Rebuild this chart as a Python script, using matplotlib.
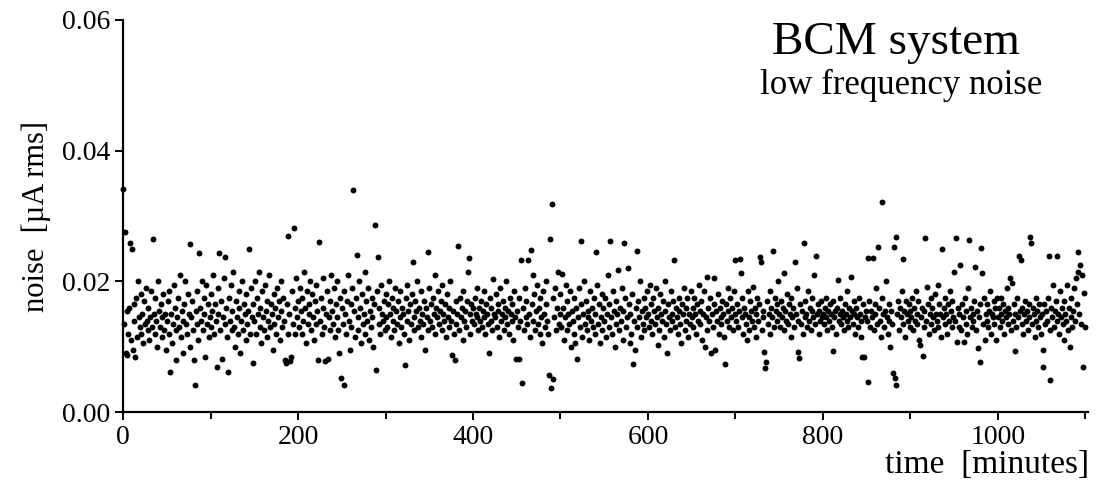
import numpy as np
import matplotlib
matplotlib.use("Agg")
import matplotlib.pyplot as plt
from matplotlib.ticker import MultipleLocator

# noise values, in units of 1e-4 uA rms, one per minute (t = 0 .. 1099)
seg00 = [342,135,276,90,155,88,120,160,259,110,250,95,165,140,85,175,115,200,145,130,180,120,150,105,170,135,190,140,125,160,110,145,185,130,265,150,120,175,140,100,200,155,130,165,115,145,180,125,150,95]
seg01 = [140,170,120,185,61,150,105,135,195,160,125,80,145,175,130,210,115,155,140,90,165,200,135,120,180,150,100,257,145,170,125,80,41,155,185,135,110,244,160,140,200,125,175,150,85,195,135,165,115,145]
seg02 = [180,130,155,210,120,165,140,69,190,150,244,125,170,82,145,205,135,238,160,115,61,175,140,195,125,155,215,130,100,170,145,120,185,160,90,140,200,125,165,150,110,180,135,155,250,120,190,145,75,165]
seg03 = [140,200,120,175,150,215,130,160,105,185,145,125,195,155,115,170,140,210,130,165,150,95,180,135,160,120,190,145,170,110,155,200,130,175,140,80,75,165,120,270,150,78,85,185,135,282,160,120,205,145]
seg04 = [170,130,190,155,120,175,140,215,160,105,185,135,165,150,200,125,180,145,110,170,135,195,155,80,261,140,175,120,160,205,130,78,150,185,82,145,170,125,210,155,135,190,115,165,145,200,125,90,175,52]
seg05 = [160,135,41,185,150,120,170,210,140,95,165,130,190,340,155,115,175,241,145,125,200,160,105,180,135,150,215,120,170,140,190,110,155,130,175,145,100,165,287,64,185,238,135,160,120,195,150,140,170,125]
seg06 = [180,145,130,165,200,150,115,175,140,160,125,190,155,135,170,105,145,185,130,160,150,120,72,175,140,195,155,110,165,135,180,230,145,125,170,155,200,130,160,140,115,185,150,135,170,95,160,145,245,125]
seg07 = [190,140,165,130,175,150,210,120,160,145,185,135,155,170,125,195,150,140,165,115,180,145,130,160,200,140,88,155,120,80,170,135,150,254,125,175,145,160,110,185,140,155,130,170,215,236,150,120,165,140]
seg08 = [160,135,175,150,145,190,125,160,140,170,130,155,185,145,120,165,150,135,90,175,140,160,125,204,150,145,180,130,165,155,115,190,140,150,170,125,160,145,200,135,155,120,175,150,140,165,110,185,145,81]
seg09 = [155,130,81,175,140,233,44,160,125,190,145,170,135,233,150,115,248,165,210,140,180,125,155,195,135,160,120,175,145,105,185,150,130,200,165,140,120,57,265,37,319,50,175,145,190,125,160,215,135,150]
seg10 = [180,130,212,160,110,145,195,125,170,150,135,185,100,155,140,120,175,105,160,81,145,190,130,262,165,115,150,200,135,170,125,155,145,110,185,140,160,130,175,120,150,245,195,135,165,105,145,180,125,160]
seg11 = [140,175,115,150,210,130,165,262,145,120,185,155,100,170,135,150,218,125,160,140,190,110,155,259,175,130,145,221,165,105,150,120,180,74,140,95,160,247,130,170,145,200,115,155,135,175,125,160,145,185]
seg12 = [150,130,195,140,165,120,175,155,135,190,145,103,160,125,180,150,140,170,115,155,200,135,90,165,145,125,185,150,140,170,233,130,160,145,120,175,155,135,105,165,150,190,125,160,140,175,115,150,135,185]
seg13 = [145,160,130,175,150,120,165,140,195,155,135,170,110,150,185,100,145,207,125,160,140,175,90,150,130,165,205,95,155,140,180,120,160,145,135,170,150,115,74,165,140,190,155,130,175,145,160,125,185,150]
seg14 = [232,140,165,130,155,234,213,145,175,120,160,150,135,110,185,145,125,170,155,140,192,130,160,150,115,175,140,165,238,230,125,155,145,92,68,76,170,135,150,185,120,160,145,247,130,175,155,140,165,200]
seg15 = [150,130,170,145,160,213,125,155,140,180,135,165,150,115,175,145,160,130,229,150,190,140,92,83,165,135,155,120,258,145,170,150,130,185,140,160,125,155,175,145,210,135,239,150,165,120,155,140,170,145]
seg16 = [150,135,160,145,175,125,155,140,165,150,130,93,170,145,155,120,160,202,140,150,175,135,155,145,125,165,150,140,185,130,160,145,207,155,135,170,150,120,160,145,130,175,150,140,115,84,165,84,145,155]
seg17 = [140,236,46,170,130,155,145,236,125,165,150,190,135,252,160,140,115,175,322,150,130,155,200,145,120,165,140,100,155,135,60,252,52,268,41,150,170,125,160,145,185,234,135,155,115,170,150,140,165,130]
seg18 = [155,145,175,125,160,140,185,150,135,170,110,103,145,160,86,130,155,266,140,192,165,120,150,175,135,160,145,125,180,150,140,195,130,165,150,115,250,145,160,135,175,150,120,165,140,185,155,130,170,145]
seg19 = [215,140,267,107,160,130,150,225,125,165,145,107,175,135,155,120,190,264,145,160,130,150,140,170,222,125,155,98,145,77,165,251,213,135,175,110,150,140,165,130,155,185,120,150,145,170,135,160,110,175]
seg20 = [145,160,130,150,175,140,165,120,155,145,190,135,160,150,205,125,198,140,165,150,93,130,175,145,239,155,233,135,160,120,150,170,140,155,125,165,145,268,258,135,160,150,115,175,140,155,130,165,145,120]
seg21 = [150,95,69,165,135,155,140,175,239,125,49,160,145,195,130,155,170,239,140,150,120,185,145,160,135,110,170,150,140,195,125,160,100,145,175,130,155,190,140,205,165,245,215,150,225,135,210,69,182,130]

segments = [seg00, seg01, seg02, seg03, seg04, seg05, seg06, seg07, seg08, seg09, seg10,
            seg11, seg12, seg13, seg14, seg15, seg16, seg17, seg18, seg19, seg20, seg21]
noise = np.concatenate([np.array(s, dtype=float) for s in segments]) * 1e-4
time_min = np.arange(len(noise))

x_ticks = [0, 200, 400, 600, 800, 1000]
y_ticks = [0.00, 0.02, 0.04, 0.06]
y_ticklabels = ["0.00", "0.02", "0.04", "0.06"]

plt.rcParams['font.family'] = ['Liberation Serif', 'DejaVu Serif']

fig = plt.figure(figsize=(10.99, 4.86), dpi=100)
ax = fig.add_axes([0.112, 0.152, 0.878, 0.807])

ax.scatter(time_min, noise, s=18, c='black', linewidths=0, zorder=3, clip_on=False)

ax.set_xlim(0, 1103)
ax.set_ylim(0, 0.06)
ax.set_xticks(x_ticks)
ax.set_xticklabels([str(v) for v in x_ticks])
ax.xaxis.set_minor_locator(MultipleLocator(100))
ax.set_yticks(y_ticks)
ax.set_yticklabels(y_ticklabels)

for s in ['top', 'right']:
    ax.spines[s].set_visible(False)
for s in ['left', 'bottom']:
    ax.spines[s].set_linewidth(1.6)

ax.tick_params(axis='both', which='major', direction='out', length=6, width=1.4,
               labelsize=20, colors='black', pad=3)
ax.tick_params(axis='x', which='minor', direction='out', length=5, width=1.4)

ax.set_ylabel("noise  [\u00b5A rms]", fontsize=22, labelpad=8)
fig.text(0.991, 0.012, "time  [minutes]", fontsize=24, ha='right', va='bottom')

fig.text(0.815, 0.912, "BCM system", fontsize=34, ha='center', va='center')
fig.text(0.82, 0.825, "low frequency noise", fontsize=25, ha='center', va='center')

fig.savefig("out.png", dpi=100)
